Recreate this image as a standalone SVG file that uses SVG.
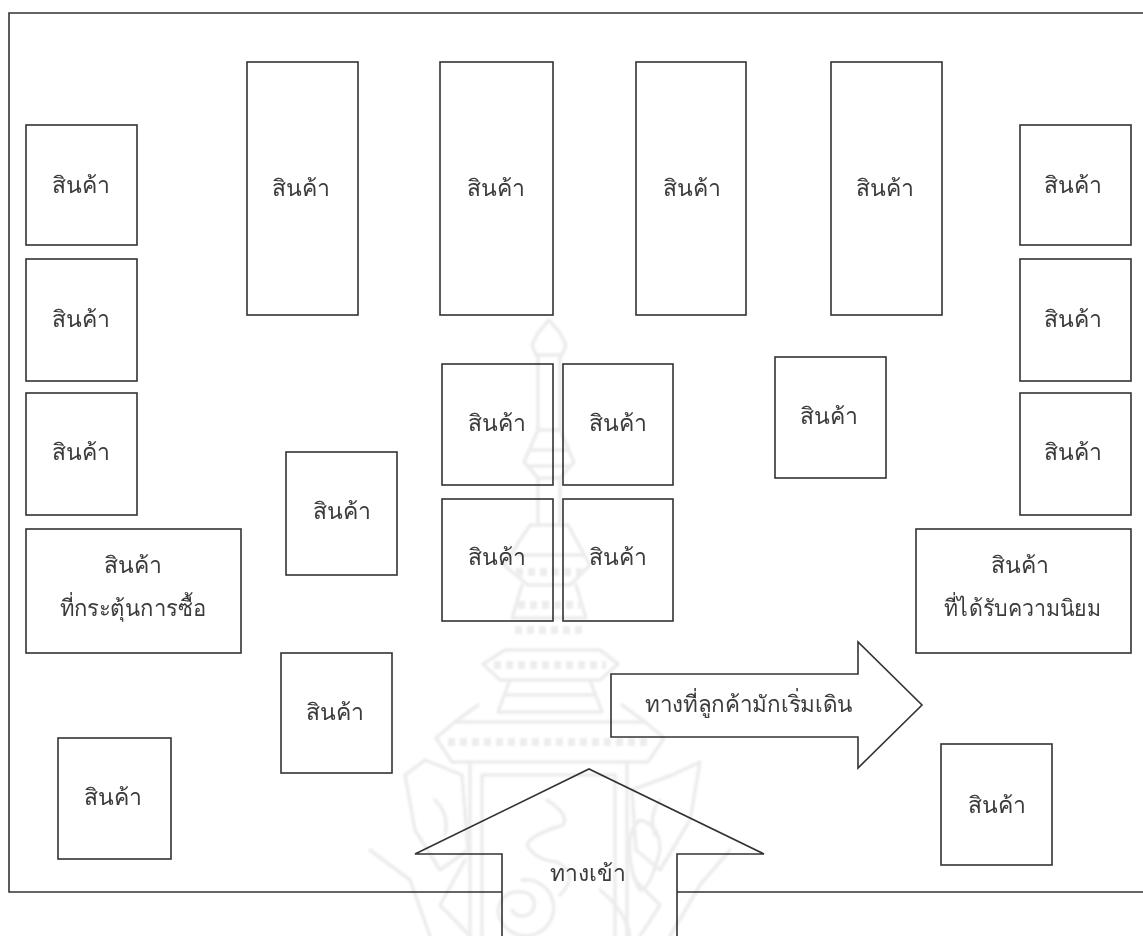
<svg xmlns="http://www.w3.org/2000/svg" width="1143" height="936" viewBox="0 0 1143 936">
<defs><filter id="soft" x="-5%" y="-5%" width="110%" height="110%"><feGaussianBlur stdDeviation="0.8"/></filter></defs>
<style>
.b{fill:#fff;stroke:#333;stroke-width:1.6}
.t{font-family:"Noto Sans","Liberation Sans",sans-serif;font-size:23px;fill:#3c3c3c;text-anchor:middle}
.w{fill:none;stroke:#ececec;stroke-width:3.5;stroke-linejoin:round;stroke-linecap:round}
.d{fill:none;stroke:#ededed;stroke-width:8;stroke-dasharray:7 5}
#watermark{mix-blend-mode:multiply}
</style>
<rect width="1143" height="936" fill="#fff"/>
<g id="floor"><path d="M1143 13H9V892H1143" fill="none" stroke="#333" stroke-width="1.6"/></g>
<g id="n1"><rect class="b" x="26" y="125" width="111" height="120"/><text class="t" x="81" y="193">สินค้า</text></g>
<g id="n2"><rect class="b" x="26" y="259" width="111" height="122"/><text class="t" x="81" y="327">สินค้า</text></g>
<g id="n3"><rect class="b" x="26" y="393" width="111" height="122"/><text class="t" x="81" y="460">สินค้า</text></g>
<g id="n4"><rect class="b" x="26" y="529" width="215" height="124"/><text class="t" x="133" y="573">สินค้า</text><text class="t" x="133" y="616" textLength="147" lengthAdjust="spacingAndGlyphs">ที่กระตุ้นการซื้อ</text></g>
<g id="n5"><rect class="b" x="58" y="738" width="113" height="121"/><text class="t" x="113" y="805">สินค้า</text></g>
<g id="n6"><rect class="b" x="247" y="62" width="111" height="253"/><text class="t" x="301" y="196">สินค้า</text></g>
<g id="n7"><rect class="b" x="440" y="62" width="113" height="253"/><text class="t" x="496" y="196">สินค้า</text></g>
<g id="n8"><rect class="b" x="636" y="62" width="110" height="253"/><text class="t" x="692" y="196">สินค้า</text></g>
<g id="n9"><rect class="b" x="831" y="62" width="111" height="253"/><text class="t" x="885" y="196">สินค้า</text></g>
<g id="n10"><rect class="b" x="1020" y="125" width="111" height="120"/><text class="t" x="1073" y="193">สินค้า</text></g>
<g id="n11"><rect class="b" x="1020" y="259" width="111" height="122"/><text class="t" x="1073" y="327">สินค้า</text></g>
<g id="n12"><rect class="b" x="1020" y="393" width="111" height="122"/><text class="t" x="1073" y="460">สินค้า</text></g>
<g id="n13"><rect class="b" x="916" y="529" width="215" height="124"/><text class="t" x="1020" y="573">สินค้า</text><text class="t" x="1022" y="616" textLength="157" lengthAdjust="spacingAndGlyphs">ที่ได้รับความนิยม</text></g>
<g id="n14"><rect class="b" x="941" y="744" width="111" height="121"/><text class="t" x="997" y="813">สินค้า</text></g>
<g id="n15"><rect class="b" x="442" y="364" width="111" height="121"/><text class="t" x="497" y="431">สินค้า</text></g>
<g id="n16"><rect class="b" x="563" y="364" width="110" height="121"/><text class="t" x="618" y="431">สินค้า</text></g>
<g id="n17"><rect class="b" x="442" y="499" width="111" height="122"/><text class="t" x="497" y="565">สินค้า</text></g>
<g id="n18"><rect class="b" x="563" y="499" width="110" height="122"/><text class="t" x="618" y="565">สินค้า</text></g>
<g id="n19"><rect class="b" x="775" y="357" width="111" height="121"/><text class="t" x="829" y="424">สินค้า</text></g>
<g id="n20"><rect class="b" x="286" y="452" width="111" height="123"/><text class="t" x="342" y="519">สินค้า</text></g>
<g id="n21"><rect class="b" x="281" y="653" width="111" height="120"/><text class="t" x="335" y="720">สินค้า</text></g>
<g id="walk-arrow"><path class="b" d="M611 674H858V642L922 705L858 768V737H611Z"/><text class="t" x="749" y="712" textLength="208" lengthAdjust="spacingAndGlyphs">ทางที่ลูกค้ามักเริ่มเดิน</text></g>
<g id="entrance-arrow"><path class="b" d="M502 940V854H415L589 769L764 854H677V940"/><text class="t" x="588" y="881">ทางเข้า</text></g>
<g id="watermark" filter="url(#soft)">
<path class="w" d="M549 320L560 333L566 345L562 355H536L532 345L538 333Z"/>
<path class="w" d="M538 355V430M560 355V430"/>
<path class="w" d="M538 430H560L574 462L560 478H538L524 462Z"/>
<path class="w" d="M530 450H568M528 466H570"/>
<path class="w" d="M538 478V525M560 478V525"/>
<path class="w" d="M530 525H568L590 565L570 585H528L504 565Z"/>
<path class="w" d="M515 555H583"/>
<path class="d" d="M516 572H582"/>
<path class="w" d="M522 585L512 618H586L576 585"/>
<path class="d" d="M518 605H580"/>
<path class="d" d="M515 630H585"/>
<path class="w" d="M505 650H600L618 664L600 680H500L483 664Z"/>
<path class="d" d="M494 665H606"/>
<path class="w" d="M510 680L498 712H602L590 680"/>
<path class="w" d="M505 695H595"/>
<path class="w" d="M478 705L455 722H645L622 705"/>
<path class="w" d="M455 722L436 738L452 762H648L664 738L645 722"/>
<path class="d" d="M448 742H652"/>
<path class="w" d="M470 762V936M482 775V936M615 775V936M627 762V936"/>
<path class="w" d="M482 775H615"/>
<path class="w" d="M547 800Q570 815 563 825Q530 835 527 845Q535 860 557 862Q580 875 560 895"/>
<path class="w" d="M522 880A28 28 0 1 1 498 912Q500 890 522 892A12 12 0 1 1 512 910"/>
<path class="w" d="M640 820Q660 825 660 850Q650 890 640 890Q628 870 630 840Q632 825 640 820Z"/>
<path class="w" d="M600 890Q625 910 630 936"/>
<path class="w" d="M405 775L425 760L462 775L468 850L440 870L415 830Z"/>
<path class="w" d="M700 762L672 775L632 790L636 850L660 870L690 820Z"/>
<path class="w" d="M370 850L410 880L430 936M465 860L440 905L470 936"/>
<path class="w" d="M730 850L700 885L670 936M635 880L660 905L640 936"/>
<path class="w" d="M435 800Q450 815 445 835M660 800Q648 815 655 835"/>
</g>
</svg>
